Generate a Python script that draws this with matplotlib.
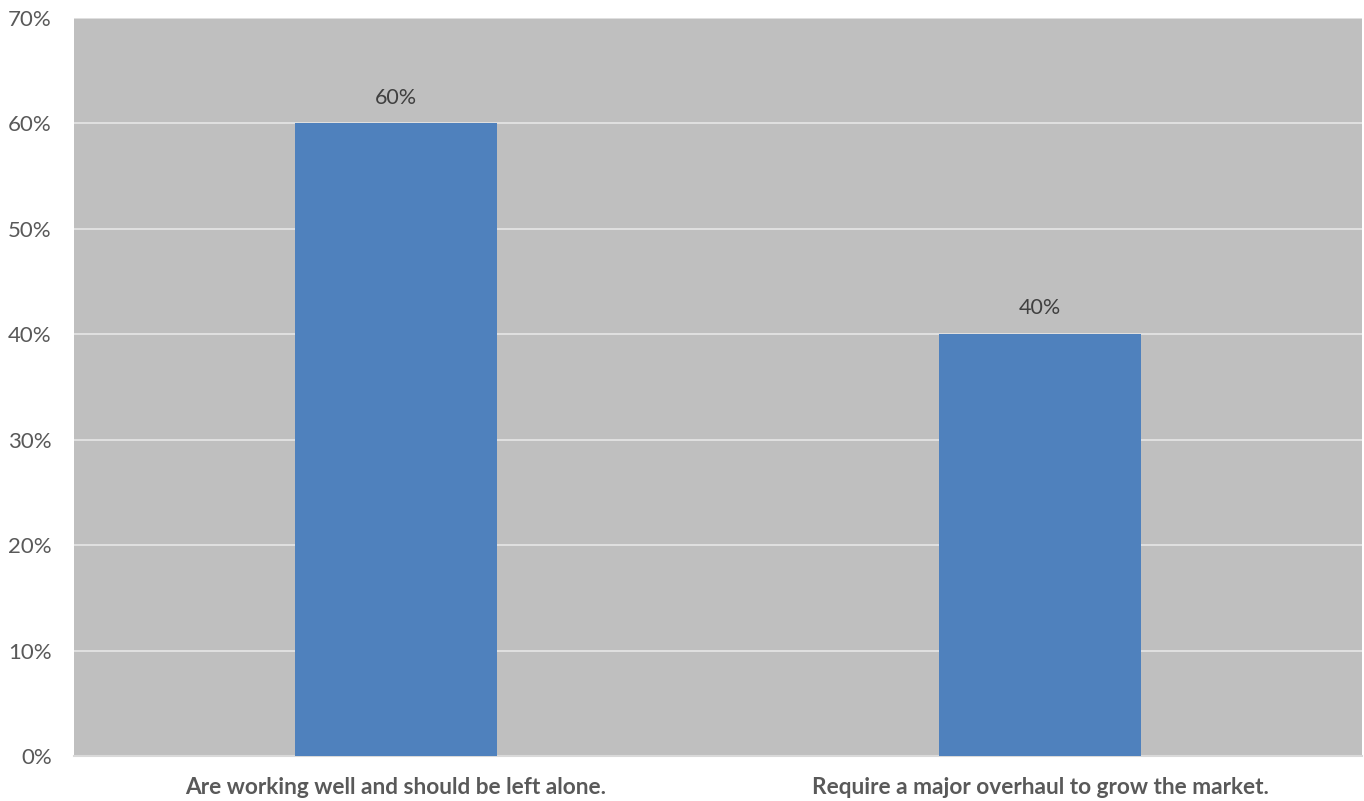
import matplotlib
matplotlib.use('Agg')
import matplotlib.pyplot as plt
import numpy as np

categories = ['Are working well and should be left alone.',
              'Require a major overhaul to grow the market.']
values = [60, 40]
yticks = [0, 10, 20, 30, 40, 50, 60, 70]

plt.rcParams['font.family'] = ['Lato', 'DejaVu Sans']

fig = plt.figure(figsize=(13.64, 8.01), dpi=100)
ax = fig.add_axes([74 / 1364, 1 - 756 / 801, 1288 / 1364, 738 / 801])
ax.set_facecolor('#BFBFBF')

x = np.arange(len(categories))
ax.bar(x, values, width=0.314, color='#4F81BD', zorder=3)
for xi, v in zip(x, values):
    ax.text(xi, v + 1.5, '%d%%' % v, ha='center', va='bottom',
            fontsize=15.5, color='#404040', zorder=4)

ax.set_xlim(-0.5, len(categories) - 0.5)
ax.set_ylim(0, 70)
ax.set_yticks(yticks)
ax.set_yticklabels(['%d%%' % t for t in yticks], fontsize=16, color='#595959')
ax.set_xticks(x)
ax.set_xticklabels(categories, fontsize=16.3, fontweight='bold', color='#595959')
ax.grid(axis='y', color='#E6E6E6', linewidth=1.2, zorder=1)
ax.tick_params(length=0)
ax.tick_params(axis='y', pad=16)
ax.tick_params(axis='x', pad=15)
for s in ['top', 'right', 'left']:
    ax.spines[s].set_visible(False)
ax.spines['bottom'].set_color('#D9D9D9')
ax.spines['bottom'].set_linewidth(1.5)

fig.savefig('out.png', dpi=100)
